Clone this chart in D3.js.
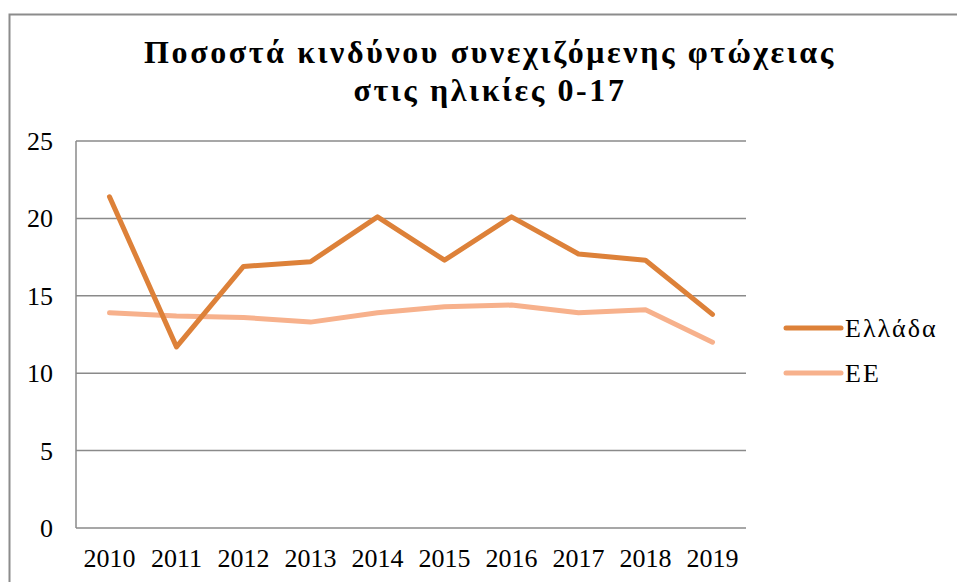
<!DOCTYPE html>
<html>
<head>
<meta charset="utf-8">
<script src="https://cdn.jsdelivr.net/npm/d3@7"></script>
<style>
  body { margin: 0; background: #fff; }
  text { font-family: "Liberation Serif", "Times New Roman", serif; }
</style>
</head>
<body>
<div id="chart"></div>
<script>
var years = ["2010", "2011", "2012", "2013", "2014", "2015", "2016", "2017", "2018", "2019"];
var greece = [21.4, 11.7, 16.9, 17.2, 20.1, 17.3, 20.1, 17.7, 17.3, 13.8];
var eu = [13.9, 13.7, 13.6, 13.3, 13.9, 14.3, 14.4, 13.9, 14.1, 12.0];
var yTicks = [0, 5, 10, 15, 20, 25];
var seriesNames = ["Ελλάδα", "ΕΕ"];
var titleLines = ["Ποσοστά κινδύνου συνεχιζόμενης φτώχειας", "στις ηλικίες 0-17"];

var width = 957, height = 582;
var colors = ["#dd8139", "#f7b18c"];

var svg = d3.select("#chart")
    .append("svg")
    .attr("width", width)
    .attr("height", height)

// outer frame
svg.append("path")
    .attr("d", "M9.5,590 V14.5 H960")
    .attr("fill", "none")
    .attr("stroke", "#8c8c8c")
    .attr("stroke-width", 2)

svg.append("text")
    .attr("text-anchor", "middle")
    .style("font-weight", "bold")
    .style("font-size", "32px")
    .style("letter-spacing", "2.6px")
    .selectAll("tspan")
    .data(titleLines)
    .enter()
    .append("tspan")
    .attr("x", 490)
    .attr("y", (d, i) => 63 + i * 38)
    .text(d => d)

var x = d3.scaleBand()
    .domain(years)
    .range([76, 746])

var y = d3.scaleLinear()
    .domain([0, 25])
    .range([528, 141])

// gridlines
svg.append("g")
    .selectAll("line")
    .data(yTicks)
    .enter()
    .append("line")
    .attr("x1", 76)
    .attr("x2", 746)
    .attr("y1", d => y(d))
    .attr("y2", d => y(d))
    .attr("stroke", "#8a8a8a")
    .attr("stroke-width", 1.5)

svg.append("line")
    .attr("x1", 76).attr("x2", 76)
    .attr("y1", y(25)).attr("y2", y(0))
    .attr("stroke", "#8a8a8a")
    .attr("stroke-width", 1.5)

// y labels
svg.append("g")
    .selectAll("text")
    .data(yTicks)
    .enter()
    .append("text")
    .attr("x", 53)
    .attr("y", d => y(d) + 9)
    .attr("text-anchor", "end")
    .style("font-size", "26px")
    .text(d => d)

// x labels
svg.append("g")
    .selectAll("text")
    .data(years)
    .enter()
    .append("text")
    .attr("x", d => x(d) + x.bandwidth() / 2)
    .attr("y", 567)
    .attr("text-anchor", "middle")
    .style("font-size", "26px")
    .text(d => d)

var line = d3.line()
    .x((d, i) => x(years[i]) + x.bandwidth() / 2)
    .y(d => y(d))

var series = [greece, eu];

// draw EU first so Greece sits on top
[1, 0].forEach(function(k) {
    svg.append("path")
        .datum(series[k])
        .attr("d", line)
        .attr("fill", "none")
        .attr("stroke", colors[k])
        .attr("stroke-width", 5)
        .attr("stroke-linecap", "round")
        .attr("stroke-linejoin", "round")
})

// legend
var leg = svg.append("g")
    .selectAll("g")
    .data(seriesNames)
    .enter()
    .append("g")
    .attr("transform", (d, i) => "translate(786," + (328 + i * 45) + ")")

leg.append("line")
    .attr("x1", 0).attr("x2", 55)
    .attr("stroke", (d, i) => colors[i])
    .attr("stroke-width", 5)
    .attr("stroke-linecap", "round")

leg.append("text")
    .attr("x", 59)
    .attr("y", 9)
    .style("font-size", "26px")
    .style("letter-spacing", "2px")
    .text(d => d)
</script>
</body>
</html>
